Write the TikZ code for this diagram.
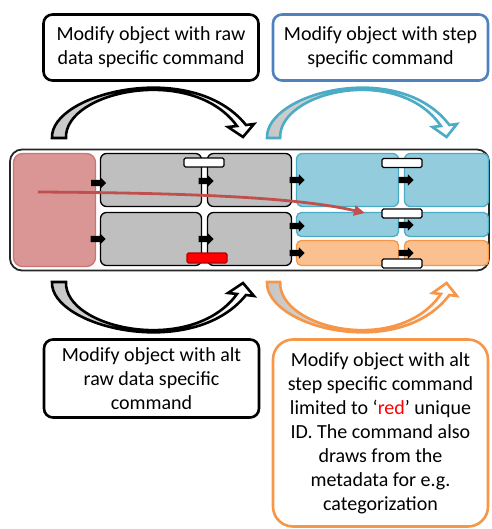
\documentclass[tikz,border=0pt]{standalone}
\usepackage{fontspec}
\setmainfont{Carlito}
\usetikzlibrary{arrows.meta,shapes.arrows}
\definecolor{boxblue}{HTML}{4F81BD}
\definecolor{arccyan}{HTML}{4BACC6}
\definecolor{arcorange}{HTML}{F79646}
\definecolor{rawred}{HTML}{D99694}
\definecolor{rawredline}{HTML}{C0504D}
\definecolor{cellgray}{HTML}{BFBFBF}
\definecolor{stepblue}{HTML}{93CDDD}
\definecolor{steporange}{HTML}{FAC090}

\begin{document}
\begin{tikzpicture}[x=1pt,y=-1pt,
  txt/.style={draw,line width=2.6pt,rounded corners=9pt,align=center,inner sep=0pt,
    minimum width=215pt,font=\fontsize{20}{24}\selectfont},
  cell/.style={draw,line width=1.3pt,rounded corners=6pt,inner sep=0pt},
  graycell/.style={cell,fill=cellgray,minimum height=53pt},
  bluecell/.style={cell,fill=stepblue,draw=arccyan,minimum width=102pt},
  orangecell/.style={cell,fill=steporange,draw=arcorange,rounded corners=5pt,minimum width=102pt,minimum height=25pt},
  bar/.style={draw,line width=1.4pt,rounded corners=1.5pt,fill=white,minimum width=40pt,minimum height=9pt,inner sep=0pt},
  blk/.style={single arrow,fill=black,inner sep=3pt,minimum height=15pt,single arrow head extend=2.5pt},
  bendarrow/.pic={\draw[pic actions,line width=2.6pt,left color=gray!45,middle color=white,right color=white]
    (0,0) .. controls (-2,-45) and (140,-80) .. (194,-13) -- (202,-14) -- (191,-1)
    -- (176,-11) -- (185,-12) .. controls (140,-74) and (12,-47) .. (14,0) -- cycle;}]
\useasboundingbox (0,0) rectangle (491,529);
% command boxes
\node[txt,minimum height=66pt] (rawcmd) at (151,47.5) {Modify object with raw\\data specific command};
\node[txt,draw=boxblue,minimum height=66pt] (stepcmd) at (380.5,47.5) {Modify object with step\\specific command};
\node[txt,minimum height=78pt] (altrawcmd) at (151.5,378.5) {Modify object with alt\\raw data specific\\command};
\node[txt,draw=arcorange,rounded corners=20pt,minimum height=187pt] (altstepcmd) at (380.5,433) {Modify object with alt\\step specific command\\limited to ‘\textcolor{red}{red}’ unique\\ID. The command also\\draws from the\\metadata for e.g.\\categorization};
% bent arrows
\pic[draw=black] at (52,138) {bendarrow};
\pic[draw=arccyan,xscale=0.94] at (267,138) {bendarrow};
\pic[draw=black,yscale=-1] at (52,282) {bendarrow};
\pic[draw=arcorange,yscale=-1,xscale=0.94] at (267,282) {bendarrow};
% object
\node[cell,draw=black!85,line width=1.8pt,rounded corners=12pt,minimum width=479pt,minimum height=121pt] (frame) at (249.5,210) {};
\node[cell,fill=rawred,draw=rawredline!80,rounded corners=9pt,minimum width=82pt,minimum height=113pt] (rawdata) at (54.5,210) {};
\node[graycell,minimum width=101pt] (g1) at (151,180) {};
\node[graycell,minimum width=84pt] (g2) at (249.5,180) {};
\node[graycell,minimum width=101pt] (g3) at (151,239) {};
\node[graycell,minimum width=84pt] (g4) at (249.5,239) {};
\node[bluecell,minimum height=53pt] (b1) at (347.5,180) {};
\node[bluecell,minimum width=84pt,minimum height=53pt] (b2) at (446.5,180) {};
\node[bluecell,rounded corners=5pt,minimum height=24pt] (b3) at (347.5,224.5) {};
\node[bluecell,rounded corners=5pt,minimum width=84pt,minimum height=24pt] (b4) at (446.5,224.5) {};
\node[orangecell] (o1) at (347.5,253) {};
\node[orangecell,minimum width=84pt] (o2) at (446.5,253) {};
% bars
\node[bar] (gbar) at (204,162.5) {};
\node[bar,fill=red,draw=red!70!black,minimum height=10pt] (redbar) at (207,258) {};
\node[bar] (sbar1) at (402,163) {};
\node[bar] (sbar2) at (402,213.5) {};
\node[bar] (sbar3) at (402,263.5) {};
% small arrows
\node[blk] (a1) at (97,183) {};
\node[blk] (a2) at (204.5,181) {};
\node[blk] (a3) at (96.5,239) {};
\node[blk] (a4) at (204.5,239) {};
\node[blk] (a5) at (295.5,180) {};
\node[blk] (a6) at (404.5,180) {};
\node[blk] (a7) at (295.5,226) {};
\node[blk] (a8) at (404.5,225) {};
\node[blk] (a9) at (295.5,253) {};
\node[blk] (a10) at (404.5,253) {};
% red id
\coordinate (rstart) at (38,192);
\coordinate (rend) at (365,213);
\draw[rawredline,line width=2.8pt,-{Triangle[length=11pt,width=10pt]}] (rstart) .. controls (200,193) and (300,198) .. (rend);
\end{tikzpicture}
\end{document}
